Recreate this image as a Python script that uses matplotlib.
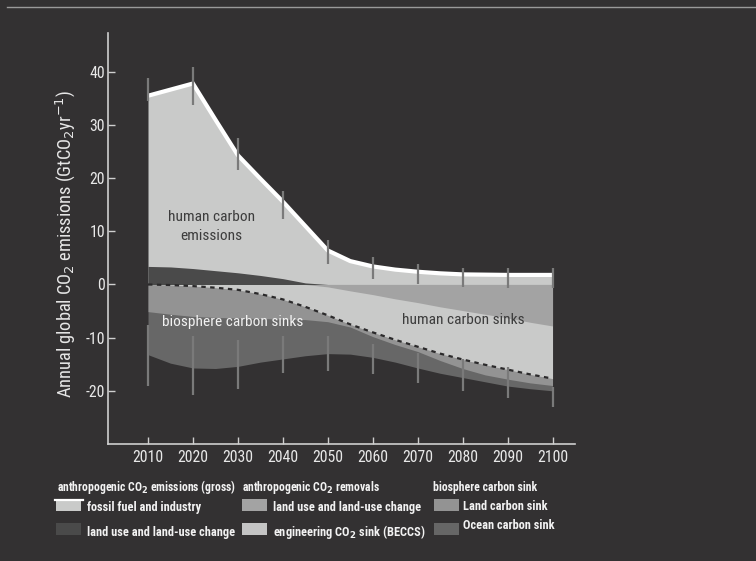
import os
import numpy as np
import matplotlib
matplotlib.use("Agg")
import matplotlib.pyplot as plt
from matplotlib import font_manager
from matplotlib.font_manager import FontProperties
from matplotlib.patches import Rectangle
from matplotlib.lines import Line2D

# ---------------- data (GtCO2 / yr) ----------------
years = [2010, 2015, 2020, 2025, 2030, 2035, 2040, 2045, 2050, 2055,
         2060, 2065, 2070, 2075, 2080, 2085, 2090, 2095, 2100]
fossil_industry = [32.1, 33.35, 34.8, 28.4, 22.1, 18.2, 14.5, 10.7, 6.4, 4.4,
                   3.4, 2.8, 2.4, 2.1, 1.9, 1.85, 1.8, 1.8, 1.8]
luc_emissions = [3.4, 3.3, 3.0, 2.6, 2.2, 1.7, 1.1, 0.3, 0.0, 0.0,
                 0.0, 0.0, 0.0, 0.0, 0.0, 0.0, 0.0, 0.0, 0.0]
luc_removals = [0.0, 0.0, 0.0, 0.0, 0.0, 0.0, 0.0, 0.0, 0.45, 1.2,
                1.9, 2.7, 3.4, 4.2, 4.9, 5.6, 6.3, 7.1, 7.8]
beccs = [0.0, 0.1, 0.3, 0.6, 1.0, 1.8, 2.8, 4.2, 5.35, 6.3,
         7.1, 7.7, 8.3, 8.8, 9.2, 9.5, 9.7, 9.8, 9.9]
land_sink = [5.1, 5.5, 5.7, 5.6, 5.3, 4.6, 3.7, 2.4, 1.2, 0.5,
             0.8, 0.9, 0.9, 1.3, 1.7, 1.9, 1.8, 1.6, 1.3]
ocean_sink = [8.1, 9.2, 9.7, 9.6, 9.1, 8.2, 7.5, 6.8, 6.0, 5.1,
              3.9, 3.3, 3.1, 2.4, 1.7, 1.3, 1.3, 1.1, 1.0]

bar_years = [2010, 2020, 2030, 2040, 2050, 2060, 2070, 2080, 2090, 2100]
emis_range_low = [34.5, 33.8, 21.6, 12.3, 3.8, 1.1, 0.1, -0.4, -0.6, -0.6]
emis_range_high = [38.9, 40.9, 27.6, 17.5, 8.3, 5.2, 3.8, 3.1, 3.1, 3.1]
sink_range_low = [-19.0, -20.8, -19.6, -16.6, -16.3, -16.9, -18.5, -20.1, -21.3, -23.0]
sink_range_high = [-7.7, -9.6, -10.5, -9.6, -9.6, -11.1, -12.8, -14.1, -15.5, -19.2]

x_ticks = [2010, 2020, 2030, 2040, 2050, 2060, 2070, 2080, 2090, 2100]
x_tick_labels = ["2010", "2020", "2030", "2040", "2050", "2060", "2070", "2080", "2090", "2100"]
y_ticks = [-20, -10, 0, 10, 20, 30, 40]
y_tick_labels = ["-20", "-10", "0", "10", "20", "30", "40"]

y_label = r"Annual global CO$_2$ emissions (GtCO$_2$yr$^{-1}$)"
legend_headers = [r"anthropogenic CO$_\mathbf{2}$ emissions (gross)",
                  r"anthropogenic CO$_\mathbf{2}$ removals",
                  "biosphere carbon sink"]
legend_labels = [["fossil fuel and industry", "land use and land-use change"],
                 ["land use and land-use change", r"engineering CO$_\mathbf{2}$ sink (BECCS)"],
                 ["Land carbon sink", "Ocean carbon sink"]]

# ---------------- style ----------------
BG = "#333132"
LIGHT = "#c9cac9"
DARK = "#4a4a4a"
MED = "#a3a3a3"
LAND = "#939393"
OCEAN = "#676767"
BAR = "#7a7a7a"
TXT = "#e8e8e8"


# ---------------- font: prefer a condensed sans ----------------
def _key(path):
    b = os.path.splitext(os.path.basename(path))[0].lower()
    return b.replace("-", "").replace("_", "").replace(" ", "")


def pick_fonts():
    entries = font_manager.fontManager.ttflist
    prefs = ["liberationsansnarrow", "robotocondensed", "notosanscondensed",
             "opensanscondensed", "dejavusanscondensed"]
    for p in prefs:
        reg = bold = None
        reg_name = None
        for f in entries:
            k = _key(f.fname)
            if not k.startswith(p):
                continue
            rest = k[len(p):]
            if rest in ("", "regular") and reg is None:
                reg, reg_name = f.fname, f.name
            elif rest == "bold" and bold is None:
                bold = f.fname
        if reg:
            return reg, (bold or reg), reg_name
    return None, None, None


reg_file, bold_file, reg_name = pick_fonts()
if reg_file:
    FP_REG = FontProperties(fname=reg_file)
    FP_BOLD = FontProperties(fname=bold_file)
    math_family = reg_name
else:
    FP_REG = FontProperties(family="Liberation Sans")
    FP_BOLD = FontProperties(family="Liberation Sans", weight="bold")
    math_family = "Liberation Sans"

plt.rcParams["font.family"] = [math_family, "DejaVu Sans"]
plt.rcParams["mathtext.fontset"] = "custom"
plt.rcParams["mathtext.rm"] = math_family
plt.rcParams["mathtext.it"] = math_family + ":italic"
plt.rcParams["mathtext.bf"] = math_family + ":bold"

W, H = 756, 561
fig = plt.figure(figsize=(W / 100, H / 100), dpi=100, facecolor=BG)
renderer = fig.canvas.get_renderer()


def fit_size(s, target_px, fp, base=12.0):
    """font size at which string s is target_px pixels wide"""
    t = fig.text(0, 0, s, fontproperties=fp, fontsize=base)
    w = t.get_window_extent(renderer).width
    t.remove()
    return base * target_px / w


def fx(px):
    return px / W


def fy(py):
    return 1 - py / H


FS_TICK = fit_size("2010", 31, FP_REG)
FS_YLAB = fit_size(y_label, 308, FP_REG)
FS_ANN = fit_size("biosphere carbon sinks", 140, FP_REG)
FS_HEAD = fit_size(legend_headers[0], 178, FP_BOLD)
FS_LEG = fit_size(legend_labels[0][0], 109, FP_BOLD) * 1.05

ax = fig.add_axes([fx(108), fy(444), fx(575) - fx(108), fy(33) - fy(444)], facecolor=BG)

x = np.array(years, dtype=float)
E = np.array(luc_emissions)
F = np.array(fossil_industry)
R = np.array(luc_removals)
B = np.array(beccs)
L = np.array(land_sink)
O = np.array(ocean_sink)

top = E + F
s1 = -R
s2 = s1 - B
s3 = s2 - L
s4 = s3 - O

ax.fill_between(x, 0, top, color=LIGHT, lw=0, zorder=1)
ax.fill_between(x, 0, E, color=DARK, lw=0, zorder=2)
ax.fill_between(x, 0, s4, color=OCEAN, lw=0, zorder=1)
ax.fill_between(x, 0, s3, color=LAND, lw=0, zorder=2)
ax.fill_between(x, 0, s2, color=LIGHT, lw=0, zorder=3)
ax.fill_between(x, 0, s1, color=MED, lw=0, zorder=4)

ax.plot(x, s2, color="#2b2a2b", lw=1.6, dashes=(2, 2), zorder=5)
ax.plot(x, top, color="white", lw=3, solid_capstyle="butt", solid_joinstyle="miter", zorder=5)

ax.vlines(bar_years, emis_range_low, emis_range_high, color=BAR, lw=1.6, zorder=6)
ax.vlines(bar_years, sink_range_low, sink_range_high, color=BAR, lw=1.6, zorder=6)

ann_kw = dict(ha="center", va="baseline", fontproperties=FP_REG, fontsize=FS_ANN, zorder=7)
ax.text(2024.1, 11.9, "human carbon", color="#3c3c3c", **ann_kw)
ax.text(2024.1, 8.45, "emissions", color="#3c3c3c", **ann_kw)
ax.text(2028.9, -7.85, "biosphere carbon sinks", color="#f2f2f2", **ann_kw)
ax.text(2080.1, -7.5, "human carbon sinks", color="#3c3c3c", **ann_kw)

ax.set_xlim(2001.1, 2105)
ax.set_ylim(-30, 47.3)
ax.set_xticks(x_ticks)
ax.set_xticklabels(x_tick_labels, fontproperties=FP_REG, fontsize=FS_TICK, color=TXT)
ax.set_yticks(y_ticks)
ax.set_yticklabels(y_tick_labels, fontproperties=FP_REG, fontsize=FS_TICK, color=TXT)
for side in ("top", "right"):
    ax.spines[side].set_visible(False)
for side in ("left", "bottom"):
    ax.spines[side].set_color("#cfcfcf")
    ax.spines[side].set_linewidth(1.2)
ax.tick_params(direction="in", length=5, width=1, colors="#cfcfcf", labelcolor=TXT)
ax.tick_params(axis="x", pad=4)
ax.tick_params(axis="y", pad=2)

ax.set_ylabel(y_label, color=TXT, fontproperties=FP_REG, fontsize=FS_YLAB)
ax.yaxis.set_label_coords(-0.066, 0.487)

# ---------------- legend (hand-built) ----------------
head_x = [57, 242, 433]
for hx, h in zip(head_x, legend_headers):
    fig.text(fx(hx), fy(490.7), h, ha="left", va="baseline", fontproperties=FP_BOLD,
             fontsize=FS_HEAD, color="#f2f2f2")

patch_x = [56, 242, 434]
text_x = [87, 273, 463]
row_top = [499.3, 523.3]
row_base = [[510.5, 536], [510.5, 536], [510.5, 529.3]]
patch_colors = [[LIGHT, DARK], [MED, "#c4c4c4"], [LAND, "#666666"]]
for c in range(3):
    for r in range(2):
        fig.add_artist(Rectangle((fx(patch_x[c]), fy(row_top[r] + 11.5)),
                                 fx(25), 11.5 / H, transform=fig.transFigure,
                                 facecolor=patch_colors[c][r], edgecolor="none"))
        fig.text(fx(text_x[c]), fy(row_base[c][r]), legend_labels[c][r], ha="left",
                 va="baseline", fontproperties=FP_BOLD, fontsize=FS_LEG, color="#f2f2f2")
# white line on the fossil-fuel patch
fig.add_artist(Line2D([fx(55), fx(82.5)], [fy(499.8), fy(499.8)], transform=fig.transFigure,
                      color="white", lw=1.6))

# thin light rule at the very top of the frame
fig.add_artist(Line2D([fx(7), 1], [fy(6.5), fy(6.5)], transform=fig.transFigure,
                      color="#9a9a9a", lw=1))

fig.savefig("out.png", dpi=100, facecolor=BG)
